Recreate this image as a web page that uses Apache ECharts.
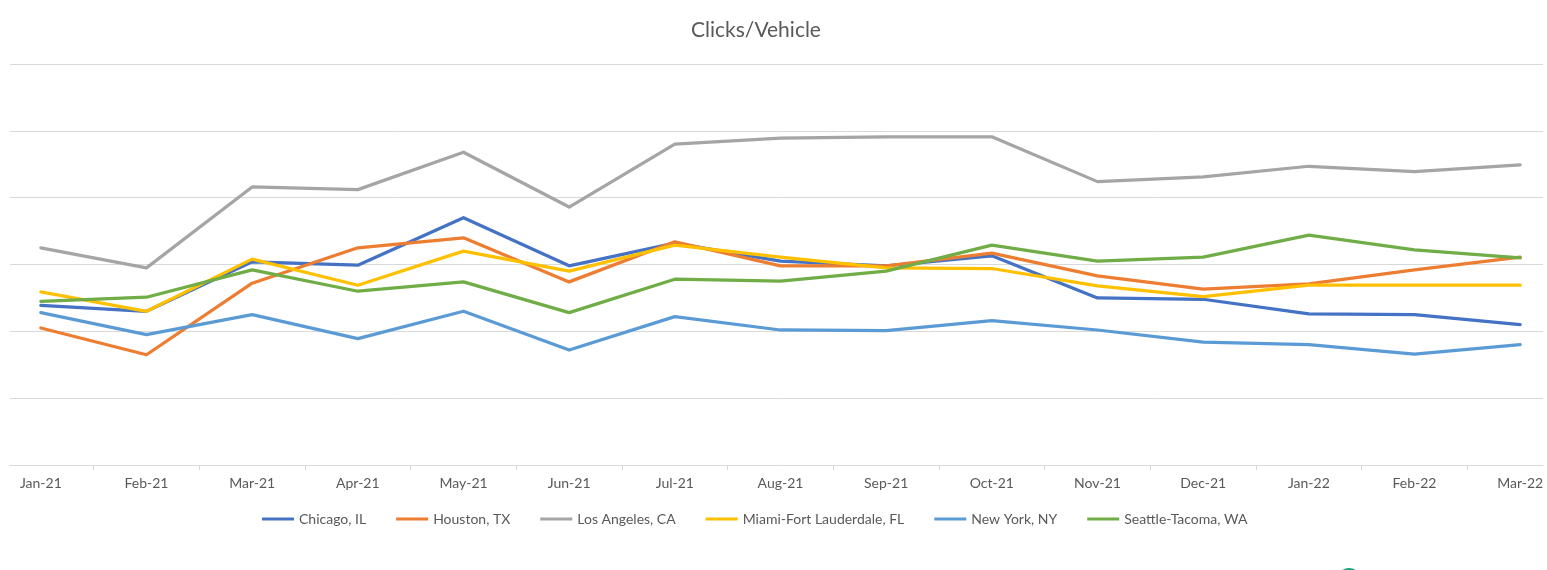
<!DOCTYPE html>
<html>
<head>
<meta charset="utf-8">
<script src="https://cdn.jsdelivr.net/npm/echarts@6/dist/echarts.min.js"></script>
<style>html,body{margin:0;padding:0;background:#fff;}#c{width:1547px;height:570px;}</style>
</head>
<body>
<div id="c"></div>
<script>
const categories = ['Jan-21','Feb-21','Mar-21','Apr-21','May-21','Jun-21','Jul-21','Aug-21','Sep-21','Oct-21','Nov-21','Dec-21','Jan-22','Feb-22','Mar-22'];
const chicago   = [2.39, 2.30, 3.04, 2.99, 3.70, 2.98, 3.32, 3.05, 2.98, 3.13, 2.50, 2.48, 2.26, 2.25, 2.10];
const houston   = [2.05, 1.65, 2.72, 3.25, 3.40, 2.74, 3.34, 2.98, 2.98, 3.17, 2.83, 2.63, 2.71, 2.92, 3.11];
const losAngeles= [3.25, 2.95, 4.16, 4.12, 4.68, 3.86, 4.80, 4.89, 4.91, 4.91, 4.24, 4.31, 4.47, 4.39, 4.49];
const miami     = [2.59, 2.30, 3.08, 2.69, 3.20, 2.90, 3.29, 3.11, 2.95, 2.94, 2.68, 2.52, 2.69, 2.69, 2.69];
const newYork   = [2.28, 1.95, 2.25, 1.89, 2.30, 1.72, 2.22, 2.02, 2.01, 2.16, 2.02, 1.84, 1.80, 1.66, 1.80];
const seattle   = [2.45, 2.51, 2.92, 2.60, 2.74, 2.28, 2.78, 2.75, 2.90, 3.29, 3.05, 3.11, 3.44, 3.22, 3.10];

const seriesDefs = [
  ['Chicago, IL', chicago, '#4472C4'],
  ['Houston, TX', houston, '#ED7D31'],
  ['Los Angeles, CA', losAngeles, '#A5A5A5'],
  ['Miami-Fort Lauderdale, FL', miami, '#FFC000'],
  ['New York, NY', newYork, '#5B9BD5'],
  ['Seattle-Tacoma, WA', seattle, '#70AD47']
];

const font = 'Lato, "Liberation Sans", sans-serif';
const chart = echarts.init(document.getElementById('c'), null, {renderer: 'canvas'});
chart.setOption({
  animation: false,
  backgroundColor: '#ffffff',
  title: {
    text: 'Clicks/Vehicle',
    left: 686,
    top: 15,
    textStyle: {fontFamily: font, fontSize: 21, fontWeight: 'normal', color: '#595959'}
  },
  legend: {
    bottom: 44,
    left: 262,
    padding: 0,
    itemWidth: 32,
    itemHeight: 3,
    itemGap: 30,
    icon: 'rect',
    textStyle: {fontFamily: font, fontSize: 14, color: '#595959'},
    data: seriesDefs.map(d => d[0])
  },
  grid: [
    {left: 10, right: 4, top: 64, bottom: 105, outerBoundsMode: 'none', containLabel: false},
    {left: -12, width: 1585, top: 64, bottom: 105, outerBoundsMode: 'none', containLabel: false}
  ],
  xAxis: [
    {gridIndex: 0, type: 'category', data: categories, show: true,
     axisLine: {show: true, lineStyle: {color: '#d9d9d9', width: 1}},
     axisTick: {show: false}, axisLabel: {show: false}},
    {gridIndex: 1, type: 'category', data: categories, boundaryGap: true,
     axisLine: {show: false},
     axisTick: {show: true, length: 5, lineStyle: {color: '#d9d9d9'}},
     axisLabel: {margin: 11, fontFamily: font, fontSize: 14, color: '#595959'}}
  ],
  yAxis: [
    {gridIndex: 0, type: 'value', min: 0, max: 6, interval: 1,
     axisLabel: {show: false}, axisLine: {show: false}, axisTick: {show: false},
     splitLine: {show: true, lineStyle: {color: '#d9d9d9', width: 1}}},
    {gridIndex: 1, type: 'value', min: 0, max: 6, interval: 1, show: false,
     splitLine: {show: false}}
  ],
  series: seriesDefs.map(d => ({
    name: d[0], type: 'line', xAxisIndex: 1, yAxisIndex: 1,
    data: d[1], showSymbol: false, symbol: 'none',
    lineStyle: {color: d[2], width: 3.25, join: 'round', cap: 'round'},
    itemStyle: {color: d[2]}
  })),
  graphic: [
    {type: 'circle', shape: {cx: 1349, cy: 580, r: 12}, style: {fill: '#1aa37a'}, silent: true}
  ]
});
</script>
</body>
</html>
